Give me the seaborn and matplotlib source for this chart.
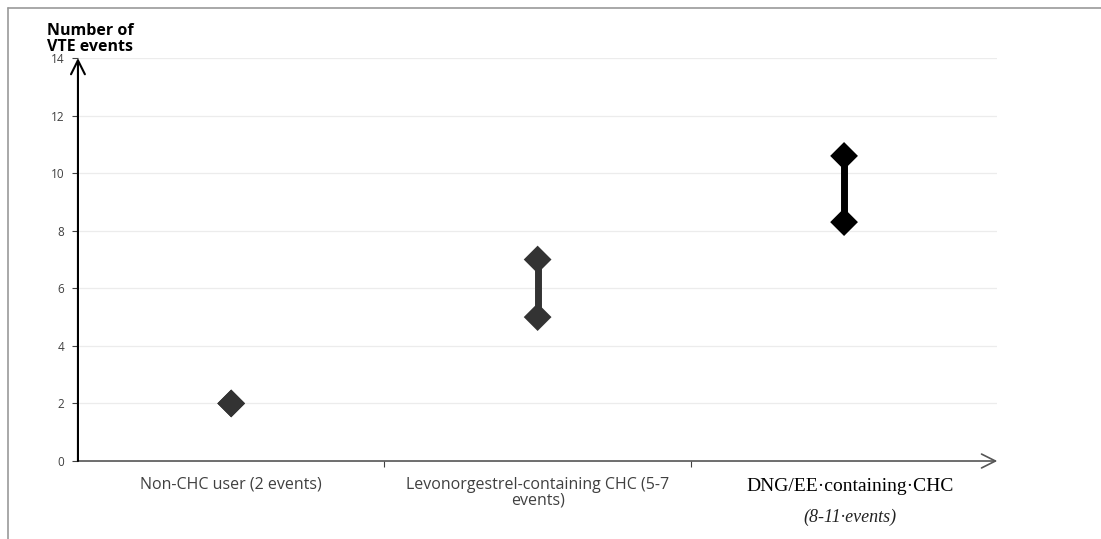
import matplotlib
matplotlib.use("Agg")
import matplotlib.pyplot as plt
import seaborn as sns
import pandas as pd

# =========================================================
# DATA
# =========================================================

categories = ["Non-CHC", "Levonorgestrel", "DNG/EE"]
low_values = [2, 5, 8.3]
high_values = [2, 7, 10.6]
marker_colors = ["#333333", "#333333", "#000000"]
y_ticks = [0, 2, 4, 6, 8, 10, 12, 14]

df = pd.DataFrame({
    "category": categories * 2,
    "pos": list(range(len(categories))) * 2,
    "events": low_values + high_values,
})

# =========================================================
# FIGURE
# =========================================================

sns.set_style("white")
plt.rcParams["font.family"] = ["Open Sans", "DejaVu Sans"]

fig = plt.figure(figsize=(11.01, 5.39), dpi=100)
ax = fig.add_axes([0.0708, 0.1447, 0.835, 0.7476])

palette = dict(zip(categories, marker_colors))

sns.lineplot(
    data=df, x="pos", y="events", hue="category", units="category",
    estimator=None, palette=palette, linewidth=5, legend=False, ax=ax
)
sns.scatterplot(
    data=df, x="pos", y="events", hue="category", palette=palette,
    marker="D", s=200, edgecolor="none", legend=False, ax=ax, zorder=5
)

ax.set_xlim(-0.5, 2.5)
ax.set_ylim(0, 14)
ax.set_xlabel("")
ax.set_ylabel("")
ax.set_yticks(y_ticks)
ax.set_yticklabels([str(t) for t in y_ticks], fontsize=8.5, color="#404040")
ax.set_xticks([0.5, 1.5])
ax.set_xticklabels([])
ax.tick_params(axis="y", length=4, width=0.8, color="#404040", pad=6, left=True)
ax.tick_params(axis="x", length=4, width=0.8, color="#404040", direction="out", bottom=True)

for t in y_ticks[1:]:
    ax.axhline(t, color="#ececec", linewidth=0.9, zorder=0)

for s in ["top", "right", "left", "bottom"]:
    ax.spines[s].set_visible(False)

# axis lines with arrow heads
ax.annotate("", xy=(2.5, 0), xytext=(-0.5, 0),
            arrowprops=dict(arrowstyle="->", color="#555555", lw=1.2,
                            mutation_scale=25, shrinkA=0, shrinkB=0),
            annotation_clip=False)
ax.annotate("", xy=(-0.5, 14), xytext=(-0.5, 0),
            arrowprops=dict(arrowstyle="->", color="black", lw=1.5,
                            mutation_scale=25, shrinkA=0, shrinkB=0),
            annotation_clip=False)

# category labels
ax.text(0, -0.55, "Non-CHC user (2 events)", ha="center", va="top",
        fontsize=11.5, color="#404040", family="Open Sans")
ax.text(1, -0.55, "Levonorgestrel-containing CHC (5-7\nevents)", ha="center", va="top",
        fontsize=11.5, color="#404040", family="Open Sans", linespacing=1.0)
ax.text(2.02, -0.6, "DNG/EE\u00b7containing\u00b7CHC", ha="center", va="top",
        fontsize=14, color="black", family="Liberation Serif")
ax.text(2.02, -1.65, "(8-11\u00b7events)", ha="center", va="top",
        fontsize=13, color="#222222", family="Liberation Serif", style="italic")

# y axis title
fig.text(0.0817, 0.958, "Number of\nVTE events", ha="center", va="top",
         fontsize=11.5, fontweight="bold", color="black", linespacing=1.05)

# outer frame
fig.add_artist(plt.Line2D([0.0073, 1.0], [0.985, 0.985], color="#999999", lw=1.2))
fig.add_artist(plt.Line2D([0.0073, 0.0073], [0.0, 0.985], color="#999999", lw=1.2))

fig.savefig("out.png", dpi=100)
